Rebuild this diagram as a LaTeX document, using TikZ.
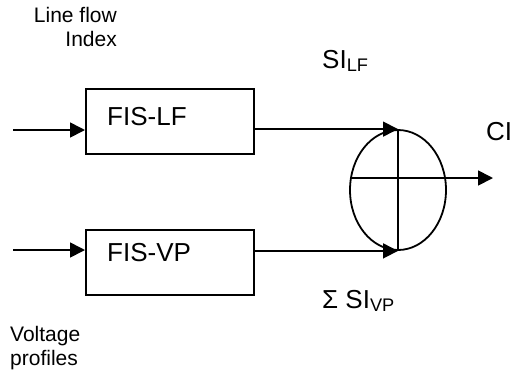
\documentclass[tikz,border=0pt]{standalone}
\usepackage{fontspec}
\setmainfont{Liberation Sans}
\usetikzlibrary{arrows.meta,shapes.geometric}
\tikzset{
  blockbox/.style={draw, line width=2pt, minimum width=168pt, minimum height=65pt, inner sep=0pt},
  sumnode/.style={draw, ellipse, line width=1.8pt, minimum width=96pt, minimum height=120pt, inner sep=0pt},
  flow/.style={line width=1.7pt, -{Triangle[length=15pt,width=15pt]}},
  plain/.style={line width=1.7pt},
  maintext/.style={font=\fontsize{26}{30}\selectfont, inner sep=0pt},
  smalltext/.style={font=\fontsize{21}{24.5}\selectfont, inner sep=0pt},
}
\begin{document}
\begin{tikzpicture}[x=1pt,y=-1pt]
\useasboundingbox (0,0) rectangle (513,373);
% blocks
\node[blockbox] (lf) at (170,121.5) {};
\node[blockbox] (vp) at (170,262) {};
\node[maintext, anchor=base west] (lft) at (107,125) {FIS-LF};
\node[maintext, anchor=base west] (vpt) at (107,261) {FIS-VP};
% summing ellipse
\node[sumnode] (sum) at (398,190) {};
% inputs
\coordinate (in1) at (13,130);
\coordinate (in2) at (13,250);
\draw[flow] (in1) -- (lf.west |- in1);
\draw[flow] (in2) -- (vp.west |- in2);
% outputs to ellipse
\draw[flow] (lf.east |- sum.north) -- (sum.north);
\draw[flow] (vp.east |- sum.south) -- (sum.south);
% cross
\draw[plain] (sum.north) -- (sum.south);
\coordinate (out) at (493,178);
\draw[flow] ([xshift=1pt]sum.west |- out) -- (out);
% labels
\node[smalltext, align=right, anchor=north east] (lfi) at (117,7) {Line flow\\Index};
\node[smalltext, align=left, anchor=north west] (vpl) at (10,326) {Voltage\\profiles};
\node[maintext, anchor=base west] (silf) at (322,68) {SI\textsubscript{LF}};
\node[maintext, anchor=base west] (sivp) at (322,308) {Σ SI\textsubscript{VP}};
\node[maintext, anchor=base west] (ci) at (486,140) {CI};
\end{tikzpicture}
\end{document}
